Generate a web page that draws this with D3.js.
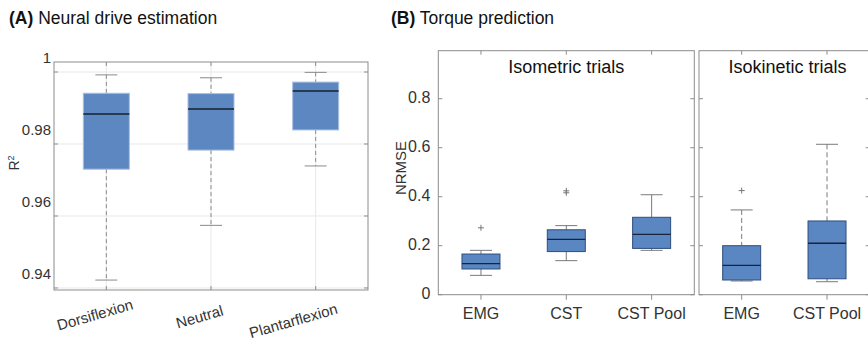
<!DOCTYPE html>
<html>
<head>
  <meta charset="utf-8">
  <style>
    body { margin: 0; padding: 0; background: #fff; font-family: "Liberation Sans", Arial, sans-serif; }
    svg text { fill: #222; }
    .grid line { stroke: #e8e8e8; stroke-width: 1; }
    .frame { fill: none; stroke: #8c8c8c; stroke-width: 1; }
    .tick-mark { stroke: #8c8c8c; stroke-width: 1; }
    .tick-label { font-size: 15px; fill: #333; }
    .cat-label { font-size: 15px; fill: #333; }
  </style>
</head>
<body>
<div id="chart"></div>
<script src="https://d3js.org/d3.v7.min.js"></script>
<script>
// ---- panel A : neural drive estimation (R^2) ----
var catsA = ["Dorsiflexion", "Neutral", "Plantarflexion"]
var lowA  = [0.9422, 0.9574, 0.9739]
var q1A   = [0.9730, 0.9783, 0.9839]
var medA  = [0.9883, 0.9897, 0.9947]
var q3A   = [0.9941, 0.9940, 0.9972]
var highA = [0.9992, 0.9984, 0.9999]
var ticksA = [0.94, 0.96, 0.98, 1]
var tickLabelsA = ["0.94", "0.96", "0.98", "1"]

// ---- panel B : torque prediction (NRMSE) ----
var catsIso = ["EMG", "CST", "CST Pool"]
var lowIso  = [0.079, 0.139, 0.181]
var q1Iso   = [0.105, 0.176, 0.189]
var medIso  = [0.127, 0.226, 0.246]
var q3Iso   = [0.166, 0.265, 0.316]
var highIso = [0.181, 0.282, 0.408]
var outIso  = [[0.273], [0.424, 0.416], []]

var catsKin = ["EMG", "CST Pool"]
var lowKin  = [0.056, 0.053]
var q1Kin   = [0.060, 0.065]
var medKin  = [0.120, 0.210]
var q3Kin   = [0.200, 0.301]
var highKin = [0.346, 0.614]
var outKin  = [[0.425], []]

var ticksB = [0, 0.2, 0.4, 0.6, 0.8]
var tickLabelsB = ["0", "0.2", "0.4", "0.6", "0.8"]

var width = 868, height = 344

var svg = d3.select("#chart").append("svg")
    .attr("width", width)
    .attr("height", height)

// ---- titles ----
function panelTitle(x, letter, txt) {
  var t = svg.append("text").attr("x", x).attr("y", 24).style("font-size", "17.5px").style("fill", "#111")
  t.append("tspan").style("font-weight", "bold").text(letter)
  t.append("tspan").text(" " + txt)
}
panelTitle(9, "(A)", "Neural drive estimation")
panelTitle(391, "(B)", "Torque prediction")

// ====== PANEL A ======
var axA = { left: 54, right: 368, top: 62, bottom: 290 }
var xA = d3.scaleBand().domain(catsA).range([axA.left, axA.right])
var yA = d3.scaleLinear().domain([0.93944, 1.00278]).range([axA.bottom, axA.top])

var gA = svg.append("g")

// grid
var gridA = gA.append("g").attr("class", "grid")
gridA.selectAll(".h").data(ticksA).enter().append("line")
  .attr("x1", axA.left).attr("x2", axA.right)
  .attr("y1", function (d) { return yA(d) }).attr("y2", function (d) { return yA(d) })
gridA.selectAll(".v").data(catsA).enter().append("line")
  .attr("y1", axA.top).attr("y2", axA.bottom)
  .attr("x1", function (d) { return xA(d) + xA.bandwidth() / 2 })
  .attr("x2", function (d) { return xA(d) + xA.bandwidth() / 2 })

// tick marks (inside, MATLAB style)
ticksA.forEach(function (t) {
  gA.append("line").attr("class", "tick-mark").attr("x1", axA.left).attr("x2", axA.left + 4).attr("y1", yA(t)).attr("y2", yA(t))
  gA.append("line").attr("class", "tick-mark").attr("x1", axA.right).attr("x2", axA.right - 4).attr("y1", yA(t)).attr("y2", yA(t))
})
catsA.forEach(function (c) {
  var cx = xA(c) + xA.bandwidth() / 2
  gA.append("line").attr("class", "tick-mark").attr("x1", cx).attr("x2", cx).attr("y1", axA.bottom).attr("y2", axA.bottom - 4)
  gA.append("line").attr("class", "tick-mark").attr("x1", cx).attr("x2", cx).attr("y1", axA.top).attr("y2", axA.top + 4)
})

// boxes
var boxWA = 46, capWA = 22
catsA.forEach(function (c, i) {
  var cx = xA(c) + xA.bandwidth() / 2
  gA.append("line").attr("x1", cx).attr("x2", cx).attr("y1", yA(highA[i])).attr("y2", yA(q3A[i]))
    .attr("stroke", "#8a8a8a").attr("stroke-dasharray", "4,3")
  gA.append("line").attr("x1", cx).attr("x2", cx).attr("y1", yA(q1A[i])).attr("y2", yA(lowA[i]))
    .attr("stroke", "#8a8a8a").attr("stroke-dasharray", "4,3")
  gA.append("line").attr("x1", cx - capWA / 2).attr("x2", cx + capWA / 2).attr("y1", yA(highA[i])).attr("y2", yA(highA[i]))
    .attr("stroke", "#8a8a8a")
  gA.append("line").attr("x1", cx - capWA / 2).attr("x2", cx + capWA / 2).attr("y1", yA(lowA[i])).attr("y2", yA(lowA[i]))
    .attr("stroke", "#8a8a8a")
  gA.append("rect").attr("x", cx - boxWA / 2).attr("width", boxWA)
    .attr("y", yA(q3A[i])).attr("height", yA(q1A[i]) - yA(q3A[i]))
    .attr("fill", "#5d87c0").attr("stroke", "#a8c0e2").attr("stroke-width", 1)
  gA.append("line").attr("x1", cx - boxWA / 2).attr("x2", cx + boxWA / 2).attr("y1", yA(medA[i])).attr("y2", yA(medA[i]))
    .attr("stroke", "#15202e").attr("stroke-width", 1.5)
})

gA.append("rect").attr("class", "frame")
  .attr("x", axA.left).attr("y", axA.top).attr("width", axA.right - axA.left).attr("height", axA.bottom - axA.top)

// y tick labels (sit a little above their grid lines in the original)
gA.selectAll(".yl").data(ticksA).enter().append("text").attr("class", "tick-label")
  .attr("x", axA.left - 3).attr("y", function (d) { return yA(d) - 13 })
  .attr("text-anchor", "end").attr("dominant-baseline", "middle")
  .text(function (d, i) { return tickLabelsA[i] })

// x labels, tilted
var labOff = [[-11, 316], [-11, 318], [-22, 322]]
catsA.forEach(function (c, i) {
  var cx = xA(c) + xA.bandwidth() / 2 + labOff[i][0]
  var cy = labOff[i][1]
  gA.append("text").attr("class", "cat-label")
    .attr("x", cx).attr("y", cy).attr("text-anchor", "middle").attr("dominant-baseline", "middle")
    .attr("transform", "rotate(-16," + cx + "," + cy + ")")
    .text(c)
})

// y label
var yt = gA.append("text").attr("transform", "translate(19,163) rotate(-90)")
  .attr("text-anchor", "middle").style("font-size", "14px").style("fill", "#333")
yt.append("tspan").text("R")
yt.append("tspan").attr("dy", -5).style("font-size", "9px").text("2")

// ====== PANEL B ======
var yB = d3.scaleLinear().domain([0, 0.996]).range([294.7, 50.7])

function drawBoxPanel(ax, cats, low, q1, med, q3, high, outs, title, dashed, showY) {
  var g = svg.append("g")
  var x = d3.scaleBand().domain(cats).range([ax.left, ax.right])
  var boxW = 38, capW = 22

  ticksB.forEach(function (t) {
    g.append("line").attr("class", "tick-mark").attr("x1", ax.left).attr("x2", ax.left + 4).attr("y1", yB(t)).attr("y2", yB(t))
    g.append("line").attr("class", "tick-mark").attr("x1", ax.right).attr("x2", ax.right - 4).attr("y1", yB(t)).attr("y2", yB(t))
  })
  cats.forEach(function (c) {
    var cx = x(c) + x.bandwidth() / 2
    g.append("line").attr("class", "tick-mark").attr("x1", cx).attr("x2", cx).attr("y1", ax.bottom).attr("y2", ax.bottom + 5)
    g.append("line").attr("class", "tick-mark").attr("x1", cx).attr("x2", cx).attr("y1", ax.top).attr("y2", ax.top + 4)
  })

  cats.forEach(function (c, i) {
    var cx = x(c) + x.bandwidth() / 2
    var wcol = "#7a7a7a"
    g.append("line").attr("x1", cx).attr("x2", cx).attr("y1", yB(high[i])).attr("y2", yB(q3[i]))
      .attr("stroke", wcol).attr("stroke-dasharray", dashed ? "5,3" : null)
    g.append("line").attr("x1", cx).attr("x2", cx).attr("y1", yB(q1[i])).attr("y2", yB(low[i]))
      .attr("stroke", wcol).attr("stroke-dasharray", dashed ? "5,3" : null)
    g.append("line").attr("x1", cx - capW / 2).attr("x2", cx + capW / 2).attr("y1", yB(high[i])).attr("y2", yB(high[i]))
      .attr("stroke", wcol)
    g.append("line").attr("x1", cx - capW / 2).attr("x2", cx + capW / 2).attr("y1", yB(low[i])).attr("y2", yB(low[i]))
      .attr("stroke", wcol)
    g.append("rect").attr("x", cx - boxW / 2).attr("width", boxW)
      .attr("y", yB(q3[i])).attr("height", yB(q1[i]) - yB(q3[i]))
      .attr("fill", "#5a86c2").attr("stroke", "#2e4e7e").attr("stroke-width", 1)
    g.append("line").attr("x1", cx - boxW / 2).attr("x2", cx + boxW / 2).attr("y1", yB(med[i])).attr("y2", yB(med[i]))
      .attr("stroke", "#18243a").attr("stroke-width", 1.3)
    outs[i].forEach(function (v) {
      var oy = yB(v)
      g.append("line").attr("x1", cx - 3).attr("x2", cx + 3).attr("y1", oy).attr("y2", oy).attr("stroke", "#777")
      g.append("line").attr("x1", cx).attr("x2", cx).attr("y1", oy - 3).attr("y2", oy + 3).attr("stroke", "#777")
    })
    g.append("text").attr("class", "cat-label").style("font-size", "16px")
      .attr("x", cx).attr("y", 315).attr("text-anchor", "middle").attr("dominant-baseline", "middle")
      .text(c)
  })

  g.append("rect").attr("class", "frame").attr("stroke", "#999")
    .attr("x", ax.left).attr("y", ax.top).attr("width", ax.right - ax.left).attr("height", ax.bottom - ax.top)

  g.append("text").attr("x", (ax.left + Math.min(ax.right, 868)) / 2 + (ax.right > 868 ? 4 : 0)).attr("y", 68)
    .attr("text-anchor", "middle").attr("dominant-baseline", "middle")
    .style("font-size", "18px").style("fill", "#111").text(title)

  if (showY) {
    g.selectAll(".yl").data(ticksB).enter().append("text").attr("class", "tick-label").style("font-size", "16px")
      .attr("x", ax.left - 8).attr("y", function (d) { return yB(d) })
      .attr("text-anchor", "end").attr("dominant-baseline", "middle")
      .text(function (d, i) { return tickLabelsB[i] })
  }
}

drawBoxPanel({ left: 438.3, right: 694.3, top: 50.7, bottom: 294.7 },
  catsIso, lowIso, q1Iso, medIso, q3Iso, highIso, outIso, "Isometric trials", false, true)
drawBoxPanel({ left: 699, right: 869.7, top: 50.7, bottom: 294.7 },
  catsKin, lowKin, q1Kin, medKin, q3Kin, highKin, outKin, "Isokinetic trials", true, false)

svg.append("text").attr("transform", "translate(402,168) rotate(-90)")
  .attr("text-anchor", "middle").attr("dominant-baseline", "middle")
  .style("font-size", "15px").style("fill", "#333").text("NRMSE")
</script>
</body>
</html>
